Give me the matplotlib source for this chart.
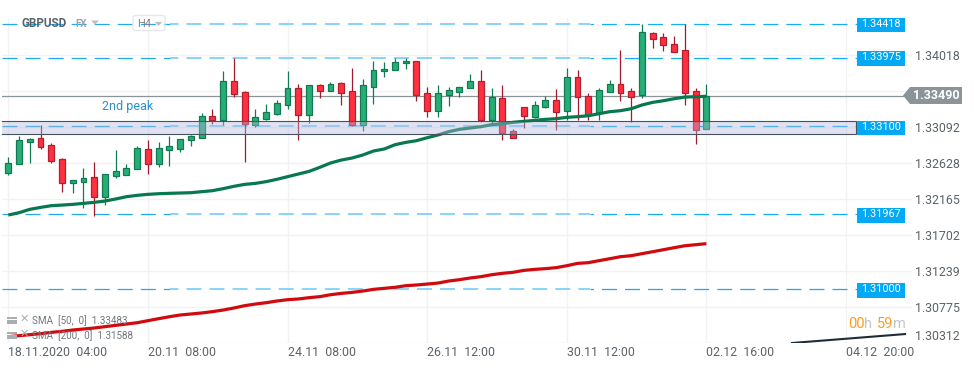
import numpy as np
import matplotlib
matplotlib.use('Agg')
import matplotlib.pyplot as plt
from matplotlib.patches import Rectangle, Polygon, FancyBboxPatch

plt.rcParams['font.family'] = ['Roboto', 'DejaVu Sans']
plt.rcParams['lines.scale_dashes'] = False

opens = [1.32500, 1.32607, 1.32899, 1.32942, 1.32852, 1.32672, 1.32372, 1.32385, 1.32440, 1.32192, 1.32462,
         1.32475, 1.32543, 1.32800, 1.32616, 1.32796, 1.32809, 1.32925, 1.32942, 1.33225, 1.33173, 1.33675,
         1.33533, 1.33118, 1.33195, 1.33259, 1.33375, 1.33585, 1.33246, 1.33624, 1.33555, 1.33649, 1.33546,
         1.33118, 1.33606, 1.33804, 1.33816, 1.33906, 1.33932, 1.33521, 1.33298, 1.33503, 1.33542, 1.33585,
         1.33675, 1.33173, 1.33456, 1.33032, 1.33341, 1.33221, 1.33349, 1.33431, 1.33289, 1.33726, 1.33491,
         1.33263, 1.33542, 1.33636, 1.33546, 1.33495, 1.34297, 1.34241, 1.34151, 1.34074, 1.33546, 1.33066]
highs = [1.32706, 1.32972, 1.32946, 1.33109, 1.32878, 1.32689, 1.32402, 1.32560, 1.32633, 1.32479, 1.32792,
         1.32612, 1.32843, 1.32920, 1.32890, 1.32972, 1.32929, 1.32980, 1.33268, 1.33319, 1.33808, 1.33979,
         1.33551, 1.33319, 1.33383, 1.33435, 1.33808, 1.33641, 1.33624, 1.33641, 1.33662, 1.33666, 1.33842,
         1.33705, 1.33936, 1.33924, 1.33971, 1.33971, 1.33932, 1.33598, 1.33628, 1.33598, 1.33598, 1.33769,
         1.33821, 1.33585, 1.33628, 1.33058, 1.33341, 1.33418, 1.33486, 1.33576, 1.33842, 1.33821, 1.33521,
         1.33585, 1.33692, 1.34078, 1.33585, 1.34412, 1.34305, 1.34292, 1.34258, 1.34412, 1.33585, 1.33641]
lows = [1.32470, 1.32607, 1.32629, 1.32805, 1.32629, 1.32252, 1.32243, 1.32050, 1.31943, 1.32089, 1.32436,
        1.32475, 1.32543, 1.32487, 1.32577, 1.32586, 1.32766, 1.32843, 1.32942, 1.33126, 1.33113, 1.33478,
        1.32638, 1.33092, 1.33178, 1.33246, 1.33323, 1.32920, 1.33143, 1.33465, 1.33555, 1.33375, 1.33101,
        1.33041, 1.33388, 1.33735, 1.33816, 1.33838, 1.33426, 1.33221, 1.33221, 1.33358, 1.33478, 1.33585,
        1.33156, 1.33126, 1.32920, 1.32942, 1.33075, 1.33203, 1.33336, 1.33049, 1.33178, 1.33178, 1.33178,
        1.33178, 1.33542, 1.33422, 1.33156, 1.33465, 1.34108, 1.34069, 1.34057, 1.33371, 1.32869, 1.33066]
closes = [1.32620, 1.32916, 1.32929, 1.32835, 1.32655, 1.32372, 1.32402, 1.32427, 1.32192, 1.32479, 1.32517,
          1.32556, 1.32813, 1.32616, 1.32813, 1.32839, 1.32929, 1.32968, 1.33225, 1.33173, 1.33675, 1.33516,
          1.33131, 1.33212, 1.33276, 1.33392, 1.33585, 1.33246, 1.33624, 1.33555, 1.33641, 1.33529, 1.33118,
          1.33624, 1.33816, 1.33829, 1.33919, 1.33932, 1.33503, 1.33298, 1.33521, 1.33559, 1.33598, 1.33675,
          1.33173, 1.33469, 1.33015, 1.32942, 1.33233, 1.33366, 1.33431, 1.33285, 1.33726, 1.33478, 1.33242,
          1.33559, 1.33636, 1.33529, 1.33478, 1.34305, 1.34224, 1.34147, 1.34057, 1.33529, 1.33053, 1.33490]

sma50 = [1.31956, 1.31986, 1.32029, 1.32054, 1.32076, 1.32084, 1.32093, 1.32106, 1.32119, 1.32136, 1.32162,
         1.32192, 1.32209, 1.32222, 1.32230, 1.32235, 1.32239, 1.32243, 1.32256, 1.32269, 1.32295, 1.32325,
         1.32350, 1.32363, 1.32385, 1.32415, 1.32449, 1.32483, 1.32517, 1.32569, 1.32625, 1.32663, 1.32689,
         1.32728, 1.32779, 1.32805, 1.32860, 1.32890, 1.32912, 1.32950, 1.32985, 1.33028, 1.33058, 1.33075,
         1.33092, 1.33118, 1.33131, 1.33148, 1.33161, 1.33173, 1.33186, 1.33195, 1.33212, 1.33221, 1.33233,
         1.33259, 1.33285, 1.33298, 1.33323, 1.33371, 1.33405, 1.33426, 1.33452, 1.33473, 1.33478, 1.33483]
sma200 = [1.30391, 1.30404, 1.30417, 1.30430, 1.30447, 1.30460, 1.30477, 1.30490, 1.30503, 1.30520, 1.30537,
          1.30554, 1.30571, 1.30597, 1.30623, 1.30648, 1.30670, 1.30683, 1.30696, 1.30713, 1.30734, 1.30760,
          1.30790, 1.30811, 1.30828, 1.30850, 1.30867, 1.30876, 1.30893, 1.30906, 1.30931, 1.30948, 1.30961,
          1.30978, 1.31000, 1.31013, 1.31026, 1.31047, 1.31056, 1.31068, 1.31081, 1.31107, 1.31124, 1.31146,
          1.31163, 1.31188, 1.31206, 1.31219, 1.31244, 1.31257, 1.31266, 1.31279, 1.31304, 1.31334, 1.31343,
          1.31369, 1.31394, 1.31420, 1.31433, 1.31459, 1.31484, 1.31510, 1.31536, 1.31561, 1.31574, 1.31588]

levels = [1.34418, 1.33975, 1.33100, 1.31967, 1.31000]
last_price = 1.33490
band = [1.32993, 1.33169]
y_ticks = [1.34018, 1.33555, 1.33092, 1.32628, 1.32165, 1.31702, 1.31239, 1.30775, 1.30312]
x_ticks = [0, 13, 26, 39, 52, 65, 78]
x_labels = ['18.11.2020  04:00', '20.11  08:00', '24.11  08:00', '26.11  12:00',
            '30.11  12:00', '02.12  16:00', '04.12  20:00']
clock_x = [72.97, 83.5]
clock_y = [1.30310, 1.30425]

W, H = 974, 368
STEP = 10.74   # px per candle
X0 = 8.3       # px of first candle


def fx(x):
    return x / W


def fy(y):
    return 1 - y / H


def idx(px):
    return (px - X0) / STEP


fig = plt.figure(figsize=(W / 100, H / 100), dpi=100)
ax = fig.add_axes([fx(2), fy(343), fx(910), (343 - 18) / H])
ax.set_xlim(idx(2), idx(912))
ax.set_ylim(1.30310, 1.34490)
for s in ax.spines.values():
    s.set_visible(False)

ax.set_xticks(x_ticks)
ax.set_xticklabels(x_labels, ha='left')
ax.yaxis.tick_right()
ax.set_yticks(y_ticks)
ax.set_yticklabels(['%.5f' % v for v in y_ticks])
ax.tick_params(axis='both', length=0, labelsize=8.9, labelcolor='#5b6369')
ax.tick_params(axis='x', pad=2)
ax.tick_params(axis='y', pad=2)
ax.get_yticklabels()[-1].set_va('bottom')
ax.grid(True, color='#f1f2f4', lw=1)
ax.set_axisbelow(True)

x = np.arange(len(opens))
o, h, l, c = map(np.array, (opens, highs, lows, closes))
up = c >= o

# levels, the screenshot shows them paler in the middle
DASH_ON, DASH_OFF = 10.8, 5.8
for lv in levels:
    for x1, x2, col, lw in [(2, 170, '#22a9ee', 0.9), (170, 590, '#7fd1fa', 1.3), (590, 857, '#14aef7', 0.9)]:
        phase = (x1 - 2) * 0.72
        ax.plot([idx(x1), idx(x2)], [lv, lv], color=col, lw=lw, ls=(phase, (DASH_ON, DASH_OFF)), zorder=1.5)
ax.plot([idx(2), idx(903)], [last_price, last_price], color='#8a9499', lw=0.9, zorder=1.6)

# candles
ax.vlines(x[up], l[up], h[up], color='#127a52', lw=0.9, zorder=2)
ax.vlines(x[~up], l[~up], h[~up], color='#a01c2c', lw=0.9, zorder=2)
ax.bar(x[up], (c - o)[up], bottom=o[up], width=0.55, color='#26ae76', edgecolor='#127a52', lw=0.9, zorder=2.1)
ax.bar(x[~up], (o - c)[~up], bottom=c[~up], width=0.55, color='#ff3040', edgecolor='#b0202f', lw=0.9, zorder=2.1)

ax.plot(x, sma50, color='#08784f', lw=2.3, zorder=2.5, solid_capstyle='butt')
ax.plot(x, sma200, color='#d00a0e', lw=2.3, zorder=2.5, solid_capstyle='butt')
ax.plot(clock_x, clock_y, color='#1f2d38', lw=1.5, zorder=2.5)

# support band, sits over the candles
ax.add_patch(Rectangle((idx(0), band[0]), idx(856.5) - idx(0), band[1] - band[0],
                       facecolor=(0.70, 0.72, 0.875, 0.4), edgecolor='#46535f', lw=0.8, zorder=3))

ax.text(idx(102), 1.33349, '2nd peak', color='#2a8fce', fontsize=9, ha='left', va='center', zorder=4)

# price tags on the right
tag_tops = [17.5, 51, 120.5, 208, 283]
tag_bottoms = [32, 66, 134.5, 223, 298]
tag_y = [24, 57.5, 127, 214.5, 289.5]
for lv, t, b, ty in zip(levels, tag_tops, tag_bottoms, tag_y):
    fig.add_artist(Rectangle((fx(857), fy(b)), 48 / W, (b - t) / H, transform=fig.transFigure,
                             facecolor='#03a9f4', edgecolor='none', zorder=5))
    fig.text(fx(881), fy(ty), '%.5f' % lv, color='white', fontsize=7.8, ha='center', va='center', zorder=6)

tag = [(903, 95.5), (910, 87), (962, 87), (962, 104), (910, 104)]
fig.add_artist(Polygon([(fx(a), fy(b)) for a, b in tag], closed=True, transform=fig.transFigure,
                       facecolor='#8a9499', edgecolor='none', zorder=5))
fig.text(fx(936), fy(95.5), '%.5f' % last_price, color='white', fontsize=9, fontweight='bold',
         ha='center', va='center', zorder=6)

# header
fig.text(fx(21), fy(23.5), 'GBPUSD', color='#59636b', fontsize=8.5, fontweight='bold', ha='left', va='center', zorder=6)
fig.text(fx(75), fy(24), 'FX', color='#9aa5ad', fontsize=7, fontweight='bold', ha='left', va='center', zorder=6)
fig.add_artist(Polygon([(fx(91), fy(20.5)), (fx(99), fy(20.5)), (fx(95), fy(24.5))], transform=fig.transFigure,
                       facecolor='#bbbfc3', edgecolor='none', zorder=6))
fig.add_artist(FancyBboxPatch((fx(133), fy(30.5)), 32 / W, 15 / H, boxstyle='round,pad=0,rounding_size=0.004',
                              transform=fig.transFigure, facecolor='none', edgecolor='#e4e6e9', lw=0.9, zorder=6))
fig.text(fx(137), fy(24), 'H4', color='#7b848b', fontsize=8, ha='left', va='center', zorder=6)
fig.add_artist(Polygon([(fx(155), fy(22)), (fx(162), fy(22)), (fx(158.5), fy(26))], transform=fig.transFigure,
                       facecolor='#bbbfc3', edgecolor='none', zorder=6))

# indicator legend
for yy, txt in zip([321, 336], ['SMA  [50,  0]  %.5f' % sma50[-1], 'SMA  [200,  0]  %.5f' % sma200[-1]]):
    for dy, hh in [(-4.5, 2), (-1.5, 2), (0.5, 2)]:
        fig.add_artist(Rectangle((fx(7), fy(yy + dy + hh)), 10 / W, hh / H, transform=fig.transFigure,
                                 facecolor='#a9aeb2', edgecolor='none', zorder=6))
    fig.text(fx(24), fy(yy - 2), '\u2715', color='#a9aeb2', fontsize=8, ha='center', va='center',
             family='DejaVu Sans', fontweight='bold', zorder=6)
    fig.text(fx(32), fy(yy), txt, color='#6f777d', fontsize=7.1, ha='left', va='center', zorder=6)

# candle countdown
for px_x, txt, col in [(848, '00', '#ff9c1a'), (864, 'h', '#c3c6c9'), (877, '59', '#ff9c1a'), (893, 'm', '#c3c6c9')]:
    fig.text(fx(px_x), fy(324), txt, color=col, fontsize=10.5, ha='left', va='center', zorder=6)

fig.savefig('out.png', dpi=100, facecolor='white')
